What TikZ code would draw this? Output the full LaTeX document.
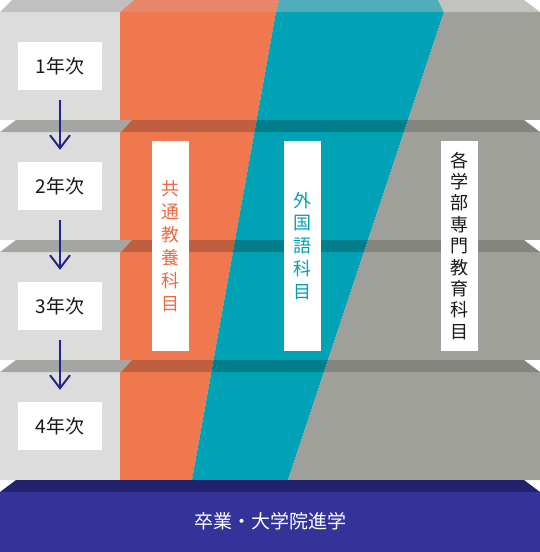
\documentclass[tikz,border=0pt]{standalone}
\usepackage{fontspec}
\setmainfont{Noto Sans CJK JP}
\usetikzlibrary{arrows.meta}
\definecolor{lgray}{HTML}{DCDCDC}
\definecolor{orng}{HTML}{F0784F}
\definecolor{teal}{HTML}{00A2B5}
\definecolor{mgray}{HTML}{A0A09B}
\definecolor{topL}{HTML}{C0C0BE}
\definecolor{topO}{HTML}{E8866A}
\definecolor{topT}{HTML}{4FAEB9}
\definecolor{topG}{HTML}{C2C2C0}
\definecolor{dkL}{HTML}{A5A5A2}
\definecolor{dkO}{HTML}{C05E40}
\definecolor{dkT}{HTML}{007E8C}
\definecolor{dkG}{HTML}{858580}
\definecolor{baseTop}{HTML}{232270}
\definecolor{baseFront}{HTML}{333399}
\definecolor{navy}{HTML}{24248A}
\definecolor{txtO}{HTML}{EE6A44}
\definecolor{txtT}{HTML}{00A0B4}
\tikzset{
  yearbox/.style={fill=white, minimum width=84pt, minimum height=48pt, inner sep=0pt,
    text=black!90, font=\fontsize{19}{21}\selectfont},
  vlabel/.style={fill=white, minimum width=36.7pt, minimum height=210pt, inner sep=0pt,
    align=center, font=\fontsize{18}{#1}\selectfont},
  arr/.style={draw=navy, line width=2pt, -{Straight Barb[length=13pt,width=20pt,line width=2pt]}},
}
\begin{document}
\begin{tikzpicture}[x=1pt,y=-1pt]
\useasboundingbox (0,0) rectangle (540,552);
% front bodies
\fill[lgray] (0,12) rectangle (120,480);
\fill[orng] (120,12) -- (276,12) -- (192,480) -- (120,480) -- cycle;
\fill[teal] (276,12) -- (444,12) -- (288,480) -- (192,480) -- cycle;
\fill[mgray] (444,12) -- (540,12) -- (540,480) -- (288,480) -- cycle;
% top face layer 1
\fill[topL] (0,12) -- (120,12) -- (134,0) -- (12,0) -- cycle;
\fill[topO] (120,12) -- (276,12) -- (279,0) -- (134,0) -- cycle;
\fill[topT] (276,12) -- (444,12) -- (438,0) -- (279,0) -- cycle;
\fill[topG] (444,12) -- (540,12) -- (524,0) -- (438,0) -- cycle;
% top faces layers 2-4
\foreach \yt in {120,240,360}{
  \pgfmathsetmacro{\yb}{\yt+12}
  \pgfmathsetmacro{\xat}{276-(\yt-12)*0.1795}
  \pgfmathsetmacro{\xab}{276-(\yb-12)*0.1795}
  \pgfmathsetmacro{\xbt}{444-(\yt-12)/3}
  \pgfmathsetmacro{\xbb}{444-(\yb-12)/3}
  \fill[white] (0,\yt) rectangle (540,\yb);
  \fill[dkL] (0,\yb) -- (121,\yb) -- (132,\yt) -- (16,\yt) -- cycle;
  \fill[dkO] (121,\yb) -- (\xab,\yb) -- (\xat,\yt) -- (132,\yt) -- cycle;
  \fill[dkT] (\xab,\yb) -- (\xbb,\yb) -- (\xbt,\yt) -- (\xat,\yt) -- cycle;
  \fill[dkG] (\xbb,\yb) -- (540,\yb) -- (524,\yt) -- (\xbt,\yt) -- cycle;
}
% base
\fill[baseTop] (0,492) -- (540,492) -- (524,480) -- (16,480) -- cycle;
\fill[baseFront] (0,492) rectangle (540,552);
\node[text=white, font=\fontsize{19}{21}\selectfont] (grad) at (270,521.7) {卒業・大学院進学};
% year boxes
\node[yearbox] (y1) at (60,66) {1年次};
\node[yearbox] (y2) at (60,186) {2年次};
\node[yearbox] (y3) at (60,306) {3年次};
\node[yearbox] (y4) at (60,426) {4年次};
\draw[arr] ([yshift=-10pt]y1.south) -- ([yshift=12pt]y2.north);
\draw[arr] ([yshift=-10pt]y2.south) -- ([yshift=12pt]y3.north);
\draw[arr] ([yshift=-10pt]y3.south) -- ([yshift=12pt]y4.north);
% vertical labels
\node[vlabel=23, text=txtO] (kyoyo) at (170.3,245.7) {共\\通\\教\\養\\科\\目};
\node[vlabel=22.75, text=txtT] (gaikoku) at (302.3,245.7) {外\\国\\語\\科\\目};
\node[vlabel=21.4, text=black!90] (senmon) at (459.3,245.7) {各\\学\\部\\専\\門\\教\\育\\科\\目};
\end{tikzpicture}
\end{document}
